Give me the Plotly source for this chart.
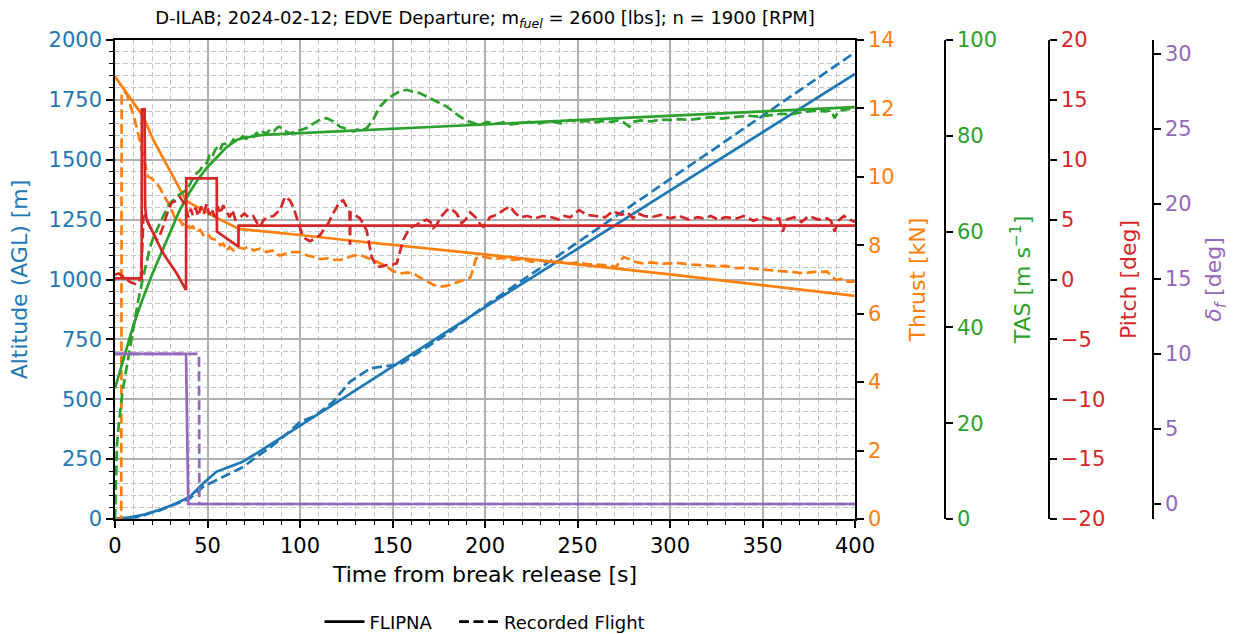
import plotly.graph_objects as go

# ---------------- data ----------------
# Altitude AGL [m]
t_alt_sim = [0, 8, 15, 24, 33, 40.5, 47.7, 55, 62, 69, 78, 100, 127, 206, 300, 400]
alt_sim = [0, 7, 17, 38, 65, 93, 149, 198, 218, 239, 281, 388, 522, 914, 1372, 1858]
t_alt_rec = [0, 12, 24, 33, 40.5, 47.7, 55, 62, 69.4, 76.6, 85, 95, 100, 108, 118, 127,
             138, 146, 154, 163, 180, 200, 300, 400]
alt_rec = [0, 8, 36, 63, 86, 135, 163, 191, 218, 260, 305, 370, 405, 430, 490, 573,
           629, 638, 645, 690, 775, 890, 1420, 1948]

# Thrust [kN]
t_thr_sim = [0, 15.3, 20.7, 36, 38.5, 55, 67, 100, 127, 192, 300, 400]
thr_sim = [12.93, 11.76, 11.08, 9.52, 9.3, 8.8, 8.48, 8.3, 8.14, 7.78, 7.15, 6.52]
t_thr_rec = [0, 3.4, 3.6, 5, 6.5, 8, 10, 11.7, 13.5, 15.3, 17, 18, 20, 22.5, 24, 26, 28,
             30.6, 32, 33.3, 35, 36.5, 38, 40.5, 42, 44, 46, 47.7, 50, 52, 55, 57, 58.5,
             60.4, 62, 64, 66, 69.4, 72, 75, 78.4, 82, 85, 89, 92, 95, 100, 104, 108,
             111, 115, 118, 121.6, 125, 129, 132, 136, 139.5, 143, 147, 150, 154, 158,
             161, 165, 168.5, 172, 175.7, 180, 183, 186.5, 190, 192, 193.6, 195, 197,
             200, 205, 210, 215, 220, 225, 230, 235, 240, 246, 250, 255, 260, 264, 268,
             271, 273, 275, 278, 281, 285, 290, 295, 300, 305, 310, 318, 325, 330, 336,
             342, 348, 354, 360, 366, 372, 378, 385, 388, 390, 393, 396, 400]
thr_rec = [0, 0, 12.45, 12.5, 12.4, 12.15, 11.8, 11.45, 11.0, 10.6, 10.2, 10.0, 9.95,
           9.8, 9.7, 9.5, 9.3, 9.05, 8.85, 8.7, 8.75, 8.6, 8.65, 8.5, 8.55, 8.4, 8.45,
           8.3, 8.35, 8.2, 8.15, 8.0, 8.05, 7.85, 7.95, 7.85, 7.95, 7.9, 7.95, 7.85, 7.9,
           7.8, 7.85, 7.7, 7.75, 7.8, 7.8, 7.7, 7.65, 7.6, 7.62, 7.58, 7.57, 7.62, 7.7,
           7.72, 7.65, 7.57, 7.48, 7.38, 7.25, 7.18, 7.2, 7.19, 7.05, 6.94, 6.85, 6.79,
           6.82, 6.88, 6.94, 7.0, 7.05, 7.3, 7.6, 7.68, 7.65, 7.6, 7.63, 7.57, 7.6, 7.52,
           7.55, 7.5, 7.52, 7.47, 7.5, 7.45, 7.44, 7.42, 7.4, 7.36, 7.55, 7.65, 7.6, 7.52,
           7.47, 7.5, 7.46, 7.47, 7.48, 7.44, 7.42, 7.38, 7.4, 7.33, 7.34, 7.3, 7.28,
           7.25, 7.22, 7.18, 7.22, 7.23, 7.05, 6.99, 7.02, 6.94, 6.94]

# True airspeed [m/s]
t_tas_sim = [0, 5, 10, 15, 20, 25, 30, 35, 40, 45, 50, 55, 60, 66, 70, 80, 200, 400]
tas_sim = [27.3, 34, 40.5, 46, 51, 55.5, 60, 64.5, 68, 71, 73.5, 75.6, 77.5, 79.2,
           79.6, 80.2, 82.4, 86.0]
t_tas_rec = [0, 0.5, 1, 2, 3, 4, 6, 8, 10, 12.6, 15.3, 17, 19, 21, 22.5, 24, 26, 28,
             29.7, 31.5, 33.3, 35, 37, 38.7, 40, 42, 44.2, 46, 47.5, 49.6, 51, 52.5, 54,
             55, 56.5, 58, 60.4, 62, 64, 66, 67.6, 69, 71, 73, 75, 76.5, 78.4, 80, 82,
             84, 86, 88, 89, 91, 94.6, 97, 100, 103.6, 107, 111, 114.4, 118, 121.6, 124,
             126, 128.8, 131, 133, 136, 139, 143.2, 147, 150.4, 154, 157.7, 161, 164.9,
             168, 172, 176, 179.3, 183, 186.5, 190, 193.7, 197, 201, 205, 210, 214, 219,
             224, 228, 232, 237, 241, 246, 250, 255, 259, 264, 268, 272, 275, 278, 280,
             284, 290, 295, 300, 305, 310, 318, 323, 328, 336, 342, 348, 354, 360, 366,
             372, 378, 384, 387, 389, 391, 395, 400]
tas_rec = [0, 9, 15, 19.5, 23.5, 26.5, 31, 35.3, 39.5, 45.7, 50.6, 53.5, 56.8, 59,
           60.3, 61.3, 63.1, 64.8, 65.9, 66.5, 67.3, 67.8, 68.3, 68.7, 69.5, 71, 72.2,
           72.8, 73.8, 74.3, 75.8, 75.4, 77, 77.4, 76.8, 78.2, 78.4, 78.0, 79.2, 78.8,
           79.3, 79.9, 79.4, 80.2, 79.8, 80.6, 80.2, 80.8, 80.5, 81.4, 81.0, 81.8, 81.9,
           81.2, 80.5, 80.8, 81.2, 81.6, 82.5, 83.4, 83.7, 83.0, 81.9, 81.6, 81.2, 80.9,
           81.3, 81.0, 81.6, 83.0, 86.1, 87.6, 88.5, 89.3, 89.6, 89.2, 88.9, 88.3, 87.5,
           86.8, 86.1, 85.0, 84.0, 83.2, 82.6, 82.2, 82.9, 82.5, 82.8, 82.4, 82.6, 82.9,
           82.5, 82.8, 82.9, 82.6, 83.3, 82.9, 83.1, 82.8, 83.1, 82.9, 83.2, 82.8, 81.9,
           82.9, 83.2, 83.0, 83.4, 83.3, 83.5, 83.3, 83.7, 83.9, 83.6, 84.0, 84.2, 84.0,
           84.3, 84.6, 84.5, 85.0, 85.2, 85.1, 85.3, 83.7, 85.1, 85.5, 85.7]

# Pitch [deg]
t_pitch_sim = [0, 14.4, 14.5, 16.0, 16.3, 17.1, 20.7, 26, 33.3, 38.4, 38.5, 55, 55.1,
               66.7, 66.8, 400]
pitch_sim = [0.1, 0.1, 14.2, 14.2, 6.0, 5.0, 3.86, 2.19, 0.52, -0.88, 8.45, 8.45, 4.0,
             2.74, 4.5, 4.5]
t_pitch_rec = [0, 2, 4, 6, 8, 10, 11.5, 13, 14, 15, 15.3, 16.5, 18, 19.5, 20.7, 22.5,
               24, 26, 27.5, 28.8, 30.6, 33.3, 35, 36.5, 38, 39.6, 41, 42, 43.5, 45,
               46.5, 48, 49.5, 51, 52.2, 54, 55.5, 57, 58.5, 60.4, 62, 63.5, 65, 67.6,
               70, 72, 74.7, 76.5, 78.4, 80.5, 83, 85.6, 89.2, 91.9, 94.6, 96.5, 98.2,
               100.9, 103, 105.4, 108, 110.8, 113, 115.3, 117.5, 119.8, 121.5, 123.4,
               125.5, 126.8, 127, 127.3, 128.8, 132.4, 134, 136, 137.5, 138.7, 141.4,
               144, 146.8, 150, 152.3, 154, 155.8, 158.6, 160.5, 163, 165, 168.5, 170.5,
               172, 174, 176, 178, 180, 182.5, 184.7, 187.4, 189.5, 192, 193.5, 195.5,
               197.5, 199, 201, 202.7, 206.3, 210, 213.5, 216, 219, 223, 227, 231, 236,
               240, 243, 246, 251, 255, 260, 265, 269, 274, 277, 280, 283, 286, 290, 295,
               300, 305, 310, 315, 318, 322, 326, 330, 336, 340, 345, 350, 355, 359, 361,
               363, 367, 371, 375, 380, 385, 387, 389, 391, 394, 397, 400]
pitch_rec = [0.4, 0.5, 0.3, 0.1, -0.2, -0.3, -0.4, -0.2, 0.2, 3.5, 5.2, 5.4, 4.7, 4.2,
             3.9, 3.3, 3.6, 4.4, 5.2, 5.8, 6.4, 6.6, 6.9, 6.5, 6.2, 5.2, 5.9, 5.4, 6.0,
             5.3, 6.1, 5.5, 6.3, 5.4, 5.9, 5.2, 6.1, 5.5, 6.2, 5.6, 5.2, 5.8, 5.0, 5.2,
             5.5, 5.2, 5.3, 4.8, 4.4, 5.0, 5.2, 5.3, 5.8, 6.9, 6.6, 6.0, 5.2, 3.9, 3.4,
             3.2, 3.4, 3.7, 4.2, 4.7, 5.4, 6.1, 6.5, 6.6, 6.0, 5.6, 2.9, 5.6, 5.5, 5.1,
             4.7, 4.1, 2.9, 1.9, 1.07, 1.1, 1.2, 1.25, 1.35, 2.2, 3.3, 4.1, 4.4, 4.55,
             4.8, 5.0, 4.8, 4.3, 4.6, 5.2, 5.6, 5.9, 5.8, 5.5, 4.7, 5.0, 5.6, 5.4, 5.1,
             4.6, 4.4, 4.8, 5.2, 5.4, 5.8, 6.1, 5.6, 5.2, 5.3, 5.1, 5.3, 5.2, 5.0, 5.3,
             5.2, 5.8, 5.4, 5.3, 5.2, 5.7, 5.4, 5.6, 5.1, 5.5, 5.3, 5.2, 5.4, 5.1, 5.3,
             5.0, 5.2, 5.1, 5.3, 5.0, 5.2, 5.1, 5.3, 4.9, 5.2, 5.0, 5.1, 4.0, 5.0, 5.2,
             4.8, 5.3, 5.0, 5.1, 4.9, 4.0, 4.9, 5.3, 5.0, 4.8]

# Flap deflection [deg]
t_flap_sim = [0, 38.4, 39.6, 400]
flap_sim = [10, 10, 0, 0]
t_flap_rec = [0, 45.4, 45.6, 400]
flap_rec = [10, 10, 0, 0]

TITLE = ("D-ILAB; 2024-02-12; EDVE Departure; m<sub><i>fuel</i></sub> = 2600 [lbs]; "
         "n = 1900 [RPM]")
LEGEND_NAMES = ["FLIPNA", "Recorded Flight"]

# ---------------- styling ----------------
BLUE, ORANGE, GREEN, RED, PURPLE = "#1f77b4", "#ff7f0e", "#2ca02c", "#d62728", "#9467bd"
FONT = "DejaVu Sans"
LW = 2.7
DASH = "10px,4.5px"
TICK_FS = 21
LABEL_FS = 22

fig = go.Figure()


def add_pair(t_sim, v_sim, t_rec, v_rec, color, yaxis):
    fig.add_trace(go.Scatter(x=t_sim, y=v_sim, mode="lines", yaxis=yaxis,
                             line=dict(color=color, width=LW), showlegend=False,
                             hoverinfo="skip"))
    fig.add_trace(go.Scatter(x=t_rec, y=v_rec, mode="lines", yaxis=yaxis,
                             line=dict(color=color, width=LW, dash=DASH),
                             showlegend=False, hoverinfo="skip"))


add_pair(t_alt_sim, alt_sim, t_alt_rec, alt_rec, BLUE, "y")
add_pair(t_thr_sim, thr_sim, t_thr_rec, thr_rec, ORANGE, "y2")
add_pair(t_tas_sim, tas_sim, t_tas_rec, tas_rec, GREEN, "y3")
add_pair(t_pitch_sim, pitch_sim, t_pitch_rec, pitch_rec, RED, "y4")
add_pair(t_flap_sim, flap_sim, t_flap_rec, flap_rec, PURPLE, "y5")

# legend entries (line style only); the first name gets a little trailing room
fig.add_trace(go.Scatter(x=[None], y=[None], mode="lines",
                         name=LEGEND_NAMES[0] + "\u00a0\u00a0\u00a0",
                         line=dict(color="black", width=LW)))
fig.add_trace(go.Scatter(x=[None], y=[None], mode="lines", name=LEGEND_NAMES[1],
                         line=dict(color="black", width=LW, dash=DASH)))

# geometry: plot area spans 115..855 px horizontally, 40..519 px vertically
W, H = 1236, 634
ML, MR, MT, MB = 115, 50, 40, 115
PW = W - ML - MR


def px(xpix):
    return (xpix - ML) / PW


X_END = px(855)


def side_axis(color, title, rng, dtick, standoff, position=None):
    ax = dict(
        title=dict(text=title, standoff=standoff,
                   font=dict(color=color, size=LABEL_FS, family=FONT)),
        range=rng, dtick=dtick, overlaying="y", side="right", automargin=False,
        showgrid=False, zeroline=False,
        showline=True, linecolor="black", linewidth=1.5,
        ticks="outside", ticklen=7, tickwidth=1.5, tickcolor="black",
        tickfont=dict(color=color, size=TICK_FS, family=FONT),
    )
    if position is None:
        ax["anchor"] = "x"
    else:
        ax["anchor"] = "free"
        ax["position"] = position
    return ax


fig.update_layout(
    template="none",
    width=W, height=H,
    margin=dict(l=ML, r=MR, t=MT, b=MB, autoexpand=False),
    paper_bgcolor="white", plot_bgcolor="white",
    font=dict(family=FONT, color="black"),
    title=dict(text=TITLE, x=px(485), xref="paper", xanchor="center",
               y=1 - 18 / H, yref="container", yanchor="middle",
               font=dict(size=18, family=FONT, color="black")),
    xaxis=dict(
        domain=[0, X_END], range=[0, 400], dtick=50, automargin=False,
        title=dict(text="Time from break release [s]",
                   font=dict(size=LABEL_FS, family=FONT), standoff=10),
        showline=True, linecolor="black", linewidth=1.5, mirror=True,
        ticks="outside", ticklen=7, tickwidth=1.5, tickcolor="black",
        tickfont=dict(size=TICK_FS, family=FONT),
        showgrid=True, gridcolor="#b0b0b0", gridwidth=1.5, zeroline=False,
        minor=dict(dtick=10, ticks="outside", ticklen=4, tickwidth=1, tickcolor="black",
                   showgrid=True, gridcolor="#c4c4c4", gridwidth=1, griddash="5px,3px"),
    ),
    yaxis=dict(
        range=[0, 2000], dtick=250, automargin=False,
        title=dict(text="Altitude (AGL) [m]", standoff=15,
                   font=dict(size=LABEL_FS, color=BLUE, family=FONT)),
        showline=True, linecolor="black", linewidth=1.5, mirror=True,
        ticks="outside", ticklen=7, tickwidth=1.5, tickcolor="black",
        tickfont=dict(size=TICK_FS, color=BLUE, family=FONT),
        showgrid=True, gridcolor="#b0b0b0", gridwidth=1.5, zeroline=False,
        minor=dict(dtick=50, ticks="outside", ticklen=4, tickwidth=1, tickcolor="black",
                   showgrid=True, gridcolor="#c4c4c4", gridwidth=1, griddash="5px,3px"),
    ),
    yaxis2=side_axis(ORANGE, "Thrust [kN]", [0, 14], 2, 16),
    yaxis3=side_axis(GREEN, "TAS [m s<sup>−1</sup>]", [0, 100], 20, 18, px(945)),
    yaxis4=side_axis(RED, "Pitch [deg]", [-20, 20], 5, 15, px(1049)),
    yaxis5=side_axis(PURPLE, "<i>δ<sub>f</sub></i> [deg]", [-1.0, 30.9], 5, 14,
                     px(1153)),
    legend=dict(orientation="h", x=px(485), xanchor="center",
                yref="container", y=1 - 622 / H, yanchor="middle",
                font=dict(size=18, family=FONT), bgcolor="rgba(0,0,0,0)",
                itemwidth=40),
)

fig.write_html("out.html")
